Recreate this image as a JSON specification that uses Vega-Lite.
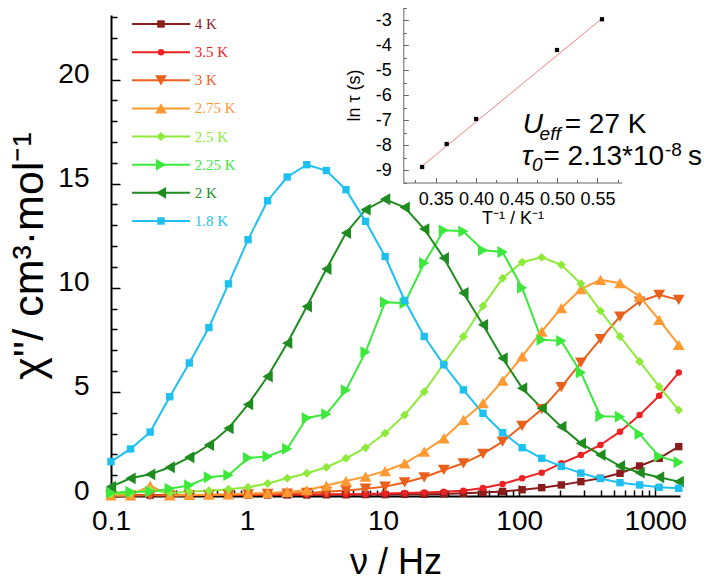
{
  "$schema": "https://vega.github.io/schema/vega-lite/v6.json",
  "width": 569,
  "height": 481,
  "autosize": {"type": "none"},
  "padding": {"left": 111, "top": 15, "right": 24, "bottom": 89},
  "background": "white",
  "config": {
    "view": {"stroke": null},
    "font": "Liberation Sans",
    "axis": {"grid": false, "domainColor": "black", "tickColor": "black", "labelColor": "black", "titleColor": "black", "labelFont": "Liberation Sans", "titleFont": "Liberation Sans", "titleFontWeight": "normal"}
  },
  "datasets": {
    "ac": [
      {"T":"4 K","f":0.1,"chi":0.03},{"T":"4 K","f":0.1393,"chi":0.03},{"T":"4 K","f":0.194,"chi":0.04},{"T":"4 K","f":0.2703,"chi":0.03},{"T":"4 K","f":0.3764,"chi":0.04},{"T":"4 K","f":0.5243,"chi":0.04},{"T":"4 K","f":0.7304,"chi":0.04},{"T":"4 K","f":1.017,"chi":0.05},{"T":"4 K","f":1.416,"chi":0.05},{"T":"4 K","f":1.973,"chi":0.05},{"T":"4 K","f":2.748,"chi":0.05},{"T":"4 K","f":3.827,"chi":0.06},{"T":"4 K","f":5.331,"chi":0.06},{"T":"4 K","f":7.426,"chi":0.07},{"T":"4 K","f":10.34,"chi":0.07},{"T":"4 K","f":14.4,"chi":0.08},{"T":"4 K","f":20.05,"chi":0.08},{"T":"4 K","f":27.93,"chi":0.1},{"T":"4 K","f":38.91,"chi":0.13},{"T":"4 K","f":54.19,"chi":0.17},{"T":"4 K","f":75.49,"chi":0.22},{"T":"4 K","f":105.1,"chi":0.3},{"T":"4 K","f":146.4,"chi":0.4},{"T":"4 K","f":203.9,"chi":0.53},{"T":"4 K","f":284,"chi":0.69},{"T":"4 K","f":395.5,"chi":0.85},{"T":"4 K","f":550.9,"chi":1.09},{"T":"4 K","f":767.3,"chi":1.44},{"T":"4 K","f":1068,"chi":1.81},{"T":"4 K","f":1488,"chi":2.37},
      {"T":"3.5 K","f":0.1,"chi":0.04},{"T":"3.5 K","f":0.1393,"chi":0.04},{"T":"3.5 K","f":0.194,"chi":0.05},{"T":"3.5 K","f":0.2703,"chi":0.04},{"T":"3.5 K","f":0.3764,"chi":0.05},{"T":"3.5 K","f":0.5243,"chi":0.05},{"T":"3.5 K","f":0.7304,"chi":0.05},{"T":"3.5 K","f":1.017,"chi":0.06},{"T":"3.5 K","f":1.416,"chi":0.06},{"T":"3.5 K","f":1.973,"chi":0.07},{"T":"3.5 K","f":2.748,"chi":0.07},{"T":"3.5 K","f":3.827,"chi":0.08},{"T":"3.5 K","f":5.331,"chi":0.09},{"T":"3.5 K","f":7.426,"chi":0.1},{"T":"3.5 K","f":10.34,"chi":0.12},{"T":"3.5 K","f":14.4,"chi":0.14},{"T":"3.5 K","f":20.05,"chi":0.17},{"T":"3.5 K","f":27.93,"chi":0.2},{"T":"3.5 K","f":38.91,"chi":0.25},{"T":"3.5 K","f":54.19,"chi":0.38},{"T":"3.5 K","f":75.49,"chi":0.58},{"T":"3.5 K","f":105.1,"chi":0.85},{"T":"3.5 K","f":146.4,"chi":1.12},{"T":"3.5 K","f":203.9,"chi":1.57},{"T":"3.5 K","f":284,"chi":1.97},{"T":"3.5 K","f":395.5,"chi":2.45},{"T":"3.5 K","f":550.9,"chi":3.09},{"T":"3.5 K","f":767.3,"chi":3.89},{"T":"3.5 K","f":1068,"chi":4.81},{"T":"3.5 K","f":1488,"chi":5.93},
      {"T":"3 K","f":0.1,"chi":0.02},{"T":"3 K","f":0.1393,"chi":0.02},{"T":"3 K","f":0.194,"chi":0.03},{"T":"3 K","f":0.2703,"chi":0.03},{"T":"3 K","f":0.3764,"chi":0.04},{"T":"3 K","f":0.5243,"chi":0.05},{"T":"3 K","f":0.7304,"chi":0.06},{"T":"3 K","f":1.017,"chi":0.08},{"T":"3 K","f":1.416,"chi":0.1},{"T":"3 K","f":1.973,"chi":0.12},{"T":"3 K","f":2.748,"chi":0.15},{"T":"3 K","f":3.827,"chi":0.2},{"T":"3 K","f":5.331,"chi":0.27},{"T":"3 K","f":7.426,"chi":0.35},{"T":"3 K","f":10.34,"chi":0.45},{"T":"3 K","f":14.4,"chi":0.65},{"T":"3 K","f":20.05,"chi":0.9},{"T":"3 K","f":27.93,"chi":1.25},{"T":"3 K","f":38.91,"chi":1.57},{"T":"3 K","f":54.19,"chi":2.02},{"T":"3 K","f":75.49,"chi":2.61},{"T":"3 K","f":105.1,"chi":3.37},{"T":"3 K","f":146.4,"chi":4.17},{"T":"3 K","f":203.9,"chi":5.23},{"T":"3 K","f":284,"chi":6.41},{"T":"3 K","f":395.5,"chi":7.53},{"T":"3 K","f":550.9,"chi":8.62},{"T":"3 K","f":767.3,"chi":9.34},{"T":"3 K","f":1068,"chi":9.66},{"T":"3 K","f":1488,"chi":9.42},
      {"T":"2.75 K","f":0.1,"chi":0.03},{"T":"2.75 K","f":0.1393,"chi":0.03},{"T":"2.75 K","f":0.194,"chi":0.5},{"T":"2.75 K","f":0.2703,"chi":0.03},{"T":"2.75 K","f":0.3764,"chi":0.05},{"T":"2.75 K","f":0.5243,"chi":0.06},{"T":"2.75 K","f":0.7304,"chi":0.08},{"T":"2.75 K","f":1.017,"chi":0.12},{"T":"2.75 K","f":1.416,"chi":0.15},{"T":"2.75 K","f":1.973,"chi":0.2},{"T":"2.75 K","f":2.748,"chi":0.28},{"T":"2.75 K","f":3.827,"chi":0.5},{"T":"2.75 K","f":5.331,"chi":0.72},{"T":"2.75 K","f":7.426,"chi":0.93},{"T":"2.75 K","f":10.34,"chi":1.2},{"T":"2.75 K","f":14.4,"chi":1.57},{"T":"2.75 K","f":20.05,"chi":2.13},{"T":"2.75 K","f":27.93,"chi":2.77},{"T":"2.75 K","f":38.91,"chi":3.65},{"T":"2.75 K","f":54.19,"chi":4.46},{"T":"2.75 K","f":75.49,"chi":5.54},{"T":"2.75 K","f":105.1,"chi":6.7},{"T":"2.75 K","f":146.4,"chi":7.9},{"T":"2.75 K","f":203.9,"chi":9.02},{"T":"2.75 K","f":284,"chi":9.94},{"T":"2.75 K","f":395.5,"chi":10.38},{"T":"2.75 K","f":550.9,"chi":10.22},{"T":"2.75 K","f":767.3,"chi":9.58},{"T":"2.75 K","f":1068,"chi":8.46},{"T":"2.75 K","f":1488,"chi":7.26},
      {"T":"2.5 K","f":0.1,"chi":0.1},{"T":"2.5 K","f":0.1393,"chi":0.12},{"T":"2.5 K","f":0.194,"chi":0.3},{"T":"2.5 K","f":0.2703,"chi":0.15},{"T":"2.5 K","f":0.3764,"chi":0.2},{"T":"2.5 K","f":0.5243,"chi":0.25},{"T":"2.5 K","f":0.7304,"chi":0.32},{"T":"2.5 K","f":1.017,"chi":0.42},{"T":"2.5 K","f":1.416,"chi":0.6},{"T":"2.5 K","f":1.973,"chi":0.85},{"T":"2.5 K","f":2.748,"chi":1.09},{"T":"2.5 K","f":3.827,"chi":1.38},{"T":"2.5 K","f":5.331,"chi":1.81},{"T":"2.5 K","f":7.426,"chi":2.32},{"T":"2.5 K","f":10.34,"chi":3.01},{"T":"2.5 K","f":14.4,"chi":3.89},{"T":"2.5 K","f":20.05,"chi":5.01},{"T":"2.5 K","f":27.93,"chi":6.35},{"T":"2.5 K","f":38.91,"chi":7.66},{"T":"2.5 K","f":54.19,"chi":9.13},{"T":"2.5 K","f":75.49,"chi":10.46},{"T":"2.5 K","f":105.1,"chi":11.23},{"T":"2.5 K","f":146.4,"chi":11.46},{"T":"2.5 K","f":203.9,"chi":11.1},{"T":"2.5 K","f":284,"chi":10.19},{"T":"2.5 K","f":395.5,"chi":8.89},{"T":"2.5 K","f":550.9,"chi":7.66},{"T":"2.5 K","f":767.3,"chi":6.46},{"T":"2.5 K","f":1068,"chi":5.25},{"T":"2.5 K","f":1488,"chi":4.13},
      {"T":"2.25 K","f":0.1,"chi":0.16},{"T":"2.25 K","f":0.1393,"chi":0.21},{"T":"2.25 K","f":0.194,"chi":0.21},{"T":"2.25 K","f":0.2703,"chi":0.35},{"T":"2.25 K","f":0.3764,"chi":0.52},{"T":"2.25 K","f":0.5243,"chi":0.9},{"T":"2.25 K","f":0.7304,"chi":1.0},{"T":"2.25 K","f":1.017,"chi":1.83},{"T":"2.25 K","f":1.416,"chi":1.9},{"T":"2.25 K","f":1.973,"chi":2.27},{"T":"2.25 K","f":2.748,"chi":3.75},{"T":"2.25 K","f":3.827,"chi":3.93},{"T":"2.25 K","f":5.331,"chi":5.08},{"T":"2.25 K","f":7.426,"chi":6.91},{"T":"2.25 K","f":10.34,"chi":9.31},{"T":"2.25 K","f":14.4,"chi":9.26},{"T":"2.25 K","f":20.05,"chi":11.19},{"T":"2.25 K","f":27.93,"chi":12.76},{"T":"2.25 K","f":38.91,"chi":12.71},{"T":"2.25 K","f":54.19,"chi":11.8},{"T":"2.25 K","f":75.49,"chi":11.72},{"T":"2.25 K","f":105.1,"chi":10.0},{"T":"2.25 K","f":146.4,"chi":7.5},{"T":"2.25 K","f":203.9,"chi":7.45},{"T":"2.25 K","f":284,"chi":5.93},{"T":"2.25 K","f":395.5,"chi":3.83},{"T":"2.25 K","f":550.9,"chi":3.81},{"T":"2.25 K","f":767.3,"chi":2.97},{"T":"2.25 K","f":1068,"chi":1.9},{"T":"2.25 K","f":1488,"chi":1.62},
      {"T":"2 K","f":0.1,"chi":0.45},{"T":"2 K","f":0.1393,"chi":0.85},{"T":"2 K","f":0.194,"chi":1.04},{"T":"2 K","f":0.2703,"chi":1.38},{"T":"2 K","f":0.3764,"chi":1.86},{"T":"2 K","f":0.5243,"chi":2.45},{"T":"2 K","f":0.7304,"chi":3.25},{"T":"2 K","f":1.017,"chi":4.4},{"T":"2 K","f":1.416,"chi":5.74},{"T":"2 K","f":1.973,"chi":7.34},{"T":"2 K","f":2.748,"chi":9.1},{"T":"2 K","f":3.827,"chi":10.9},{"T":"2 K","f":5.331,"chi":12.63},{"T":"2 K","f":7.426,"chi":13.75},{"T":"2 K","f":10.34,"chi":14.25},{"T":"2 K","f":14.4,"chi":13.86},{"T":"2 K","f":20.05,"chi":12.82},{"T":"2 K","f":27.93,"chi":11.43},{"T":"2 K","f":38.91,"chi":9.75},{"T":"2 K","f":54.19,"chi":8.22},{"T":"2 K","f":75.49,"chi":6.62},{"T":"2 K","f":105.1,"chi":5.18},{"T":"2 K","f":146.4,"chi":4.22},{"T":"2 K","f":203.9,"chi":3.33},{"T":"2 K","f":284,"chi":2.53},{"T":"2 K","f":395.5,"chi":1.97},{"T":"2 K","f":550.9,"chi":1.44},{"T":"2 K","f":767.3,"chi":1.12},{"T":"2 K","f":1068,"chi":0.9},{"T":"2 K","f":1488,"chi":0.69},
      {"T":"1.8 K","f":0.1,"chi":1.65},{"T":"1.8 K","f":0.1393,"chi":2.26},{"T":"1.8 K","f":0.194,"chi":3.07},{"T":"1.8 K","f":0.2703,"chi":4.77},{"T":"1.8 K","f":0.3764,"chi":6.39},{"T":"1.8 K","f":0.5243,"chi":8.09},{"T":"1.8 K","f":0.7304,"chi":10.19},{"T":"1.8 K","f":1.017,"chi":12.31},{"T":"1.8 K","f":1.416,"chi":14.18},{"T":"1.8 K","f":1.973,"chi":15.32},{"T":"1.8 K","f":2.748,"chi":15.91},{"T":"1.8 K","f":3.827,"chi":15.63},{"T":"1.8 K","f":5.331,"chi":14.71},{"T":"1.8 K","f":7.426,"chi":13.19},{"T":"1.8 K","f":10.34,"chi":11.5},{"T":"1.8 K","f":14.4,"chi":9.39},{"T":"1.8 K","f":20.05,"chi":7.66},{"T":"1.8 K","f":27.93,"chi":6.3},{"T":"1.8 K","f":38.91,"chi":5.1},{"T":"1.8 K","f":54.19,"chi":3.97},{"T":"1.8 K","f":75.49,"chi":3.04},{"T":"1.8 K","f":105.1,"chi":2.32},{"T":"1.8 K","f":146.4,"chi":1.81},{"T":"1.8 K","f":203.9,"chi":1.42},{"T":"1.8 K","f":284,"chi":1.1},{"T":"1.8 K","f":395.5,"chi":0.84},{"T":"1.8 K","f":550.9,"chi":0.64},{"T":"1.8 K","f":767.3,"chi":0.53},{"T":"1.8 K","f":1068,"chi":0.42},{"T":"1.8 K","f":1488,"chi":0.37}
    ],
    "arrhenius": [
      {"invT":0.3333,"lntau":-8.88},{"invT":0.3636,"lntau":-7.96},{"invT":0.4,"lntau":-6.96},{"invT":0.5,"lntau":-4.2},{"invT":0.5556,"lntau":-2.97}
    ],
    "fit": [
      {"invT":0.33,"fit":-8.93},{"invT":0.556,"fit":-2.93}
    ],
    "legend": [
      {"T":"4 K"},{"T":"3.5 K"},{"T":"3 K"},{"T":"2.75 K"},{"T":"2.5 K"},{"T":"2.25 K"},{"T":"2 K"},{"T":"1.8 K"}
    ]
  },
  "resolve": {"scale": {"x": "independent", "y": "independent"}},
  "layer": [
    {
      "data": {"name": "ac"},
      "layer": [
        {
          "mark": {"type": "line", "strokeWidth": 2},
          "encoding": {
            "x": {"field": "f", "type": "quantitative",
              "scale": {"type": "log", "domain": [0.1, 1520], "nice": false},
              "axis": {"orient": "bottom", "values": [0.1, 1, 10, 100, 1000], "format": "~g", "tickSize": -11, "tickWidth": 1.5, "domainWidth": 2, "labelPadding": 22, "labelFontSize": 28, "labelFlush": false, "title": "ν / Hz", "titleFontSize": 36, "titlePadding": 10}},
            "y": {"field": "chi", "type": "quantitative",
              "scale": {"domain": [0, 23.1], "nice": false, "zero": false},
              "axis": {"orient": "left", "values": [0, 5, 10, 15, 20], "tickSize": -9, "tickWidth": 1.5, "domainWidth": 2, "labelPadding": 31, "labelFontSize": 28, "labelOffset": -5, "title": "χ''/ cm³·mol⁻¹", "titleFontSize": 43, "titlePadding": 6}},
            "color": {"field": "T", "type": "nominal",
              "scale": {"domain": ["4 K","3.5 K","3 K","2.75 K","2.5 K","2.25 K","2 K","1.8 K"],
                        "range": ["#8B1C1C","#EE2222","#E8601C","#FF9A33","#8EEA3A","#3CE83C","#1E8C1E","#1EC0F0"]},
              "legend": null}
          }
        },
        {
          "mark": {"type": "point", "filled": true, "opacity": 1},
          "encoding": {
            "x": {"field": "f", "type": "quantitative",
              "axis": {"orient": "top", "offset": -481, "values": [0.2,0.3,0.4,0.5,0.6,0.7,0.8,0.9,2,3,4,5,6,7,8,9,20,30,40,50,60,70,80,90,200,300,400,500,600,700,800,900], "labels": false, "domain": false, "tickSize": 6, "tickWidth": 1.5, "title": null}},
            "y": {"field": "chi", "type": "quantitative",
              "axis": {"orient": "right", "offset": -569, "values": [1,2,3,4,6,7,8,9,11,12,13,14,16,17,18,19,21,22,23], "labels": false, "domain": false, "tickSize": 6, "tickWidth": 1.5, "title": null}},
            "color": {"field": "T", "type": "nominal", "legend": null},
            "shape": {"field": "T", "type": "nominal",
              "scale": {"domain": ["4 K","3.5 K","3 K","2.75 K","2.5 K","2.25 K","2 K","1.8 K"],
                        "range": ["square","circle","triangle-down","triangle-up","diamond","triangle-right","triangle-left","square"]},
              "legend": null},
            "size": {"condition": [
                {"test": "indexof(['3 K','2.75 K','2.25 K','2 K'], datum.T) >= 0", "value": 140},
                {"test": "datum.T == '2.5 K'", "value": 80},
                {"test": "datum.T == '3.5 K'", "value": 42}
              ], "value": 55}
          }
        }
      ]
    },
    {
      "layer": [
        {
          "data": {"name": "fit"},
          "mark": {"type": "line", "color": "#F08080", "strokeWidth": 1},
          "encoding": {
            "x": {"field": "invT", "type": "quantitative",
              "scale": {"domain": [0.31, 0.58], "range": [292.3, 510.7], "nice": false, "zero": false},
              "axis": {"orient": "top", "offset": -167.5, "values": [0.325,0.375,0.425,0.475,0.525,0.575], "labels": false, "domain": false, "tickSize": 3, "tickColor": "#666", "title": null}},
            "y": {"field": "fit", "type": "quantitative",
              "scale": {"domain": [-9.5, -2.5], "range": [167.5, -7.5], "nice": false, "zero": false},
              "axis": {"orient": "right", "offset": -276.7, "values": [-9.5,-8.5,-7.5,-6.5,-5.5,-4.5,-3.5,-2.5], "labels": false, "domain": false, "tickSize": 3, "tickColor": "#666", "title": null}}
          }
        },
        {
          "data": {"name": "arrhenius"},
          "mark": {"type": "square", "color": "black", "size": 18, "opacity": 1},
          "encoding": {
            "x": {"field": "invT", "type": "quantitative",
              "axis": {"orient": "bottom", "offset": -313.5, "values": [0.35,0.4,0.45,0.5,0.55], "format": ".2f", "tickSize": -5, "tickColor": "#666", "domainColor": "#666", "labelPadding": 13, "labelFontSize": 18, "title": "T⁻¹ / K⁻¹", "titleFontSize": 18, "titlePadding": 1}},
            "y": {"field": "lntau", "type": "quantitative", "title": "ln τ (s)",
              "axis": {"orient": "left", "offset": -292.3, "values": [-9,-8,-7,-6,-5,-4,-3], "labelExpr": "'' + datum.value", "tickSize": -5, "tickColor": "#666", "domainColor": "#666", "labelPadding": 17, "labelFontSize": 18, "titleFontSize": 18, "titlePadding": 12}}
          }
        },
        {
          "data": {"values": [{}]},
          "mark": {"type": "text", "text": "U", "fontSize": 28, "fontStyle": "italic", "align": "left", "baseline": "alphabetic"},
          "encoding": {"x": {"datum": 0.4576, "axis": null}, "y": {"datum": -7.53, "axis": null}}
        },
        {
          "data": {"values": [{}]},
          "mark": {"type": "text", "text": "eff", "fontSize": 19, "fontStyle": "italic", "align": "left", "baseline": "alphabetic"},
          "encoding": {"x": {"datum": 0.4785, "axis": null}, "y": {"datum": -7.8, "axis": null}}
        },
        {
          "data": {"values": [{}]},
          "mark": {"type": "text", "text": "= 27 K", "fontSize": 28, "align": "left", "baseline": "alphabetic"},
          "encoding": {"x": {"datum": 0.5095, "axis": null}, "y": {"datum": -7.53, "axis": null}}
        },
        {
          "data": {"values": [{}]},
          "mark": {"type": "text", "text": "τ", "fontSize": 28, "fontStyle": "italic", "align": "left", "baseline": "alphabetic"},
          "encoding": {"x": {"datum": 0.4564, "axis": null}, "y": {"datum": -8.8, "axis": null}}
        },
        {
          "data": {"values": [{}]},
          "mark": {"type": "text", "text": "0", "fontSize": 19, "fontStyle": "italic", "align": "left", "baseline": "alphabetic"},
          "encoding": {"x": {"datum": 0.4691, "axis": null}, "y": {"datum": -9.04, "axis": null}}
        },
        {
          "data": {"values": [{}]},
          "mark": {"type": "text", "text": "= 2.13*10", "fontSize": 28, "align": "left", "baseline": "alphabetic"},
          "encoding": {"x": {"datum": 0.4833, "axis": null}, "y": {"datum": -8.8, "axis": null}}
        },
        {
          "data": {"values": [{}]},
          "mark": {"type": "text", "text": "-8", "fontSize": 19, "align": "left", "baseline": "alphabetic"},
          "encoding": {"x": {"datum": 0.6335, "axis": null}, "y": {"datum": -8.45, "axis": null}}
        },
        {
          "data": {"values": [{}]},
          "mark": {"type": "text", "text": "s", "fontSize": 28, "align": "left", "baseline": "alphabetic"},
          "encoding": {"x": {"datum": 0.662, "axis": null}, "y": {"datum": -8.8, "axis": null}}
        }
      ]
    },
    {
      "data": {"name": "legend"},
      "layer": [
        {
          "mark": {"type": "rule", "strokeWidth": 2},
          "encoding": {
            "x": {"datum": 0, "scale": {"domain": [0, 1], "range": [21, 79]}, "axis": null},
            "x2": {"datum": 1},
            "y": {"field": "T", "type": "nominal", "scale": {"type": "point", "domain": ["4 K","3.5 K","3 K","2.75 K","2.5 K","2.25 K","2 K","1.8 K"], "range": [9, 206], "padding": 0}, "axis": null},
            "color": {"field": "T", "type": "nominal", "legend": null}
          }
        },
        {
          "mark": {"type": "point", "filled": true, "opacity": 1},
          "encoding": {
            "x": {"datum": 0.5},
            "y": {"field": "T", "type": "nominal"},
            "color": {"field": "T", "type": "nominal", "legend": null},
            "shape": {"field": "T", "type": "nominal", "legend": null},
            "size": {"condition": [
                {"test": "indexof(['3 K','2.75 K','2.25 K','2 K'], datum.T) >= 0", "value": 140},
                {"test": "datum.T == '2.5 K'", "value": 80},
                {"test": "datum.T == '3.5 K'", "value": 42}
              ], "value": 55}
          }
        },
        {
          "mark": {"type": "text", "align": "left", "baseline": "middle", "font": "Liberation Serif", "fontSize": 15},
          "encoding": {
            "x": {"datum": 1.08},
            "y": {"field": "T", "type": "nominal"},
            "text": {"field": "T"},
            "color": {"field": "T", "type": "nominal", "legend": null}
          }
        }
      ]
    }
  ]
}
